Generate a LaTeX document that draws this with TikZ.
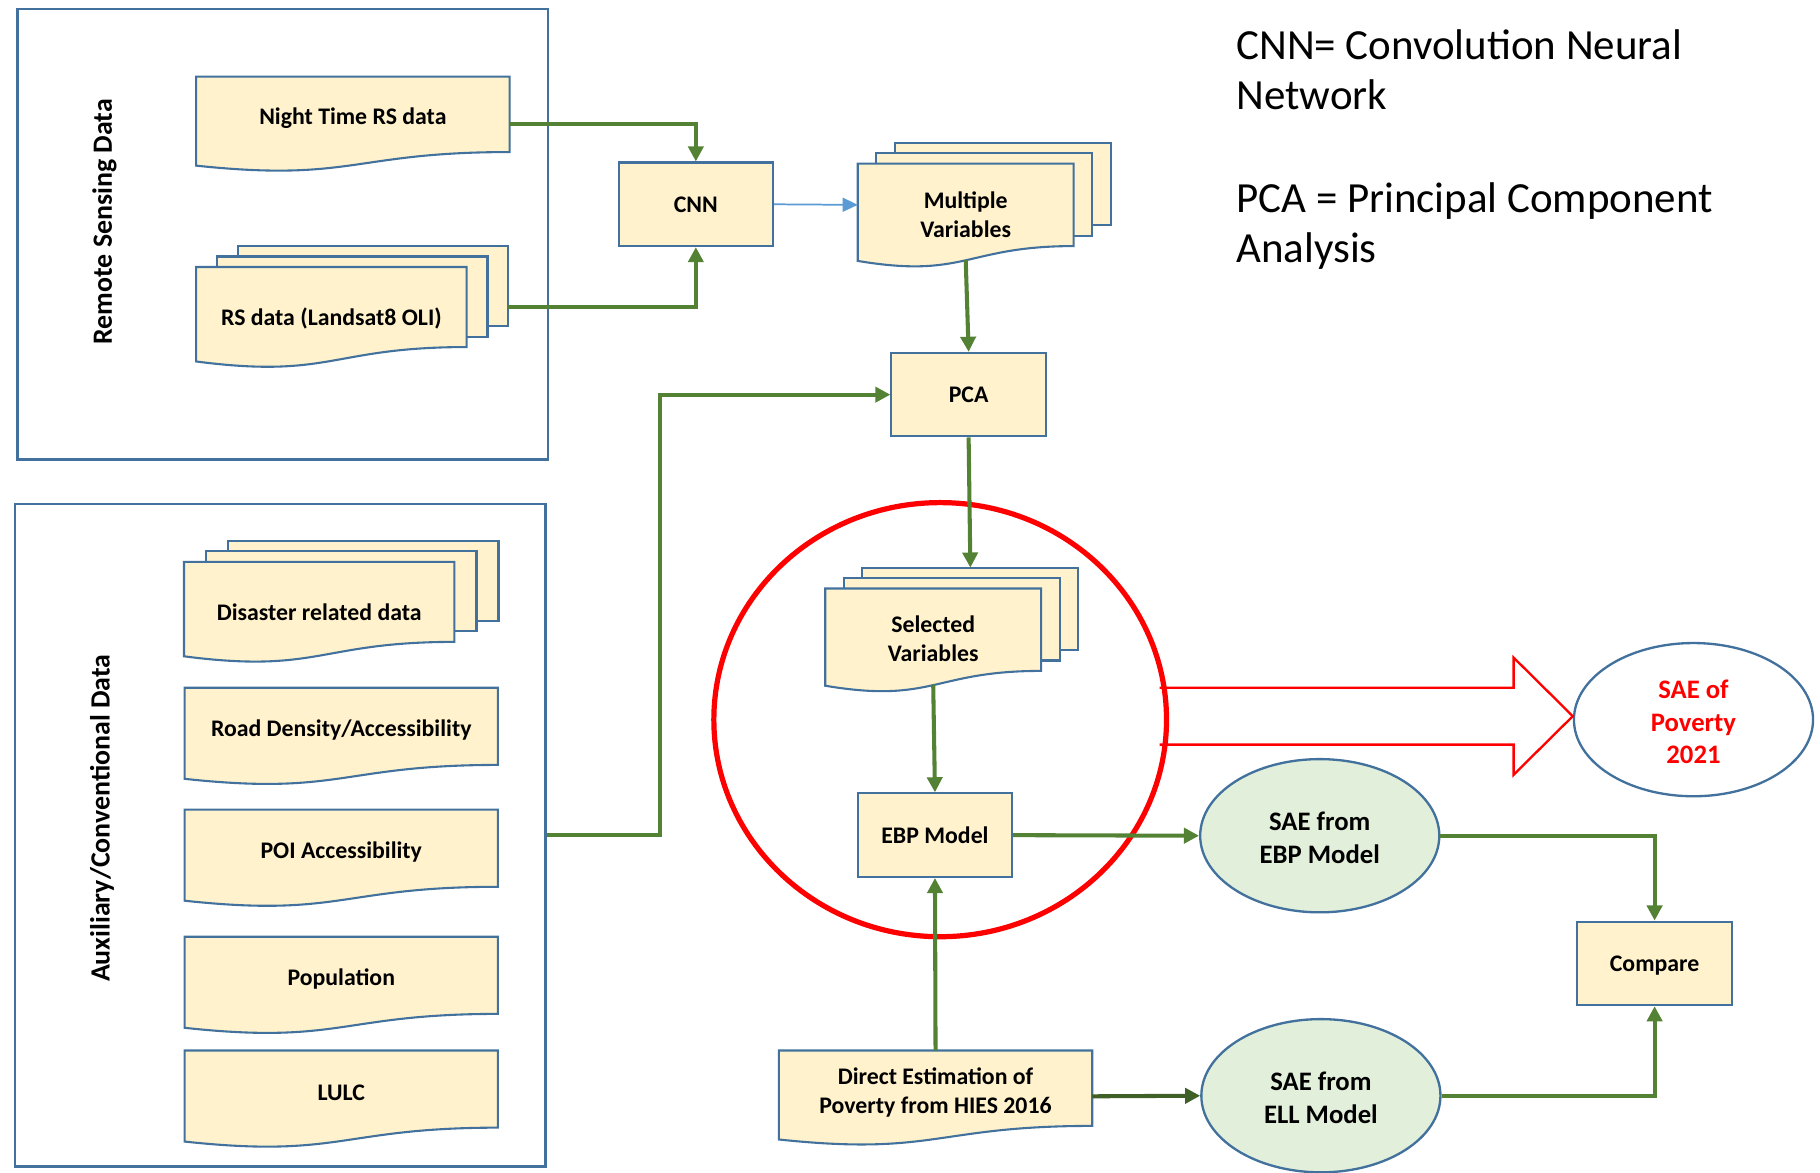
\documentclass[tikz,border=0pt]{standalone}
\usepackage{fontspec}
\setmainfont{Carlito}
\usetikzlibrary{calc,arrows.meta,shapes.geometric}
\definecolor{docfill}{HTML}{FFF2CC}
\definecolor{bord}{HTML}{41719C}
\definecolor{arrg}{HTML}{548235}
\definecolor{darkg}{HTML}{3F6127}
\definecolor{ellg}{HTML}{E2EFDA}
\definecolor{blarr}{HTML}{5B9BD5}
\definecolor{redc}{HTML}{FF0000}
% geometry node of a document shape: name, x1, top, x2, straight height
\newcommand\docgeo[5]{\node[geo, minimum width={(#4)-(#2)}, minimum height={#5}] (#1) at ({((#2)+(#4))/2},{(#3)+(#5)/2}) {};}
% document outline with wavy bottom
\newcommand\docout[1]{\path[docline] (#1.north west) -- (#1.north east) -- (#1.south east) .. controls (#1.south) and ($(#1.north)!1.40!(#1.south)$) .. ($(#1.north west)!1.18!(#1.south west)$) -- cycle;}
% two sheets behind a stacked document
\newcommand\docback[3]{%
  \path[docline] ([shift={(2*#2,-2*#3)}]#1.north west) rectangle ([shift={(2*#2,-2*#3)}]#1.south east);
  \path[docline] ([shift={(#2,-#3)}]#1.north west) rectangle ([shift={(#2,-#3)}]#1.south east);}
\begin{document}
\begin{tikzpicture}[x=1pt,y=-1pt,
  geo/.style={inner sep=0pt, outer sep=0pt},
  docline/.style={fill=docfill, draw=bord, line width=1.8pt, line join=miter},
  txt/.style={font=\fontsize{20.5}{25}\selectfont\bfseries, align=center, inner sep=0pt, yshift=-1.5pt},
  outer/.style={draw=bord, line width=2pt, inner sep=0pt},
  sidelabel/.style={rotate=90, font=\fontsize{24}{29}\selectfont\bfseries, inner sep=0pt},
  procbox/.style={draw=bord, fill=docfill, line width=1.8pt, minimum width=133, minimum height=72, inner sep=0pt, text depth=0pt, font=\fontsize{20.5}{25}\selectfont\bfseries},
  sae/.style={ellipse, draw=bord, fill=ellg, line width=2pt, minimum width=206, minimum height=132, inner sep=0pt, align=center, text height=48pt, font=\fontsize{23}{28}\selectfont\bfseries},
  legend/.style={font=\fontsize{37}{43}\selectfont, inner sep=0pt, anchor=base west},
  garrow/.style={draw=arrg, line width=3.5pt, -{Triangle[length=13pt,width=13pt]}},
  darrow/.style={draw=darkg, line width=3.5pt, -{Triangle[length=13pt,width=13pt]}},
  barrow/.style={draw=blarr, line width=1.5pt, -{Triangle[length=13pt,width=12pt]}}
]
\useasboundingbox (0,0) rectangle (1568,1010);

% outer group boxes
\node[outer, minimum width=457, minimum height=388] (rsbox) at (243.5,202) {};
\node[sidelabel] (rslabel) at (90,191) {Remote Sensing Data};
\node[outer, minimum width=457, minimum height=571] (auxbox) at (241.5,719.5) {};
\node[sidelabel] (auxlabel) at (88,705) {Auxiliary/Conventional Data};

% document geometry
\docgeo{nt}{169}{66}{439}{65}
\docgeo{rs}{169}{230}{402}{69}
\docgeo{mv}{739}{141}{925}{71}
\docgeo{sv}{711}{507}{897}{71}
\docgeo{de}{671}{905}{941}{65}
\docgeo{dis}{158.5}{484}{391.5}{69}
\docgeo{road}{159}{592.5}{429}{66.5}
\docgeo{poi}{159}{697.5}{429}{66.5}
\docgeo{pop}{159}{807}{429}{66.5}
\docgeo{lulc}{159}{905}{429}{66.5}

\docback{rs}{18}{9}
\docback{mv}{16}{9}
\docback{sv}{16}{9}
\docback{dis}{19}{9}
\docout{nt}\docout{rs}\docout{mv}\docout{sv}\docout{de}
\docout{dis}\docout{road}\docout{poi}\docout{pop}\docout{lulc}

% document texts
\node[txt] (nt-t) at ($(nt.north)!0.53!(nt.south)$) {Night Time RS data};
\node[txt] (rs-t) at ($(rs.north)!0.62!(rs.south)$) {RS data (Landsat8 OLI)};
\node[txt] (mv-t) at ($(mv.north)!0.6!(mv.south)$) {Multiple\\Variables};
\node[txt] (sv-t) at ($(sv.north)!0.59!(sv.south)$) {Selected\\Variables};
\node[txt] (de-t) at ($(de.north)!0.53!(de.south)$) {Direct Estimation of\\Poverty from HIES 2016};
\node[txt] (dis-t) at ($(dis.north)!0.61!(dis.south)$) {Disaster related data};
\node[txt] (road-t) at ($(road.north)!0.53!(road.south)$) {Road Density/Accessibility};
\node[txt] (poi-t) at ($(poi.north)!0.53!(poi.south)$) {POI Accessibility};
\node[txt] (pop-t) at ($(pop.north)!0.53!(pop.south)$) {Population};
\node[txt] (lulc-t) at ($(lulc.north)!0.53!(lulc.south)$) {LULC};

% process boxes
\node[procbox] (cnn) at (599.5,176) {CNN};
\node[procbox] (pca) at (834.5,340) {PCA};
\node[procbox] (ebp) at (805.5,719.5) {EBP Model};
\node[procbox] (cmp) at (1425.5,830) {Compare};

% ellipses
\node[sae, fill=white, text=redc, text height=76pt] (pov) at (1459,620) {SAE of\\Poverty\\2021};
\node[sae] (saeebp) at (1137,720) {SAE from\\EBP Model};
\node[sae] (saeell) at (1138,944) {SAE from\\ELL Model};

% red block arrow and focus circle
\coordinate (tip) at ([yshift=3pt]pov.west);
\draw[redc, line width=2pt, line join=miter] ($(tip)+(-356,-24.5)$) -- ($(tip)+(-51,-24.5)$) -- ($(tip)+(-51,-50.5)$) -- (tip) -- ($(tip)+(-51,50.5)$) -- ($(tip)+(-51,24.5)$) -- ($(tip)+(-356,24.5)$);
\node[ellipse, draw=redc, line width=4.5pt, minimum width=390, minimum height=374, inner sep=0pt] (focus) at (810,620) {};

% legend
\node[legend] (leg1) at (1065,51) {CNN= Convolution Neural};
\node[legend] (leg2) at (1065,94) {Network};
\node[legend] (leg3) at (1065,183) {PCA = Principal Component};
\node[legend] (leg4) at (1065,226) {Analysis};

% connectors
\draw[garrow] ([yshift=-8.5pt]nt.east) -| (cnn.north);
\draw[garrow] ([xshift=36pt]rs.east) -| (cnn.south);
\draw[barrow] (cnn.east) -- (mv.west);
\draw[garrow] ($(mv.north)!1.17!(mv.south)$) -- ([xshift=0pt]pca.north);
\draw[garrow] (auxbox.east) -- (569,719.5) |- (pca.west);
\draw[garrow] (pca.south) -- ([shift={(32,-18)}]sv.north);
\draw[garrow] ($(sv.north)!1.17!(sv.south)$) -- (ebp.north);
\draw[garrow] (de.north) -- (ebp.south);
\draw[garrow] (ebp.east) -- (saeebp.west);
\draw[darrow] ([yshift=-7pt]de.east) -- (saeell.west);
\draw[garrow] (saeebp.east) -| (cmp.north);
\draw[garrow] (saeell.east) -| (cmp.south);
\end{tikzpicture}
\end{document}
